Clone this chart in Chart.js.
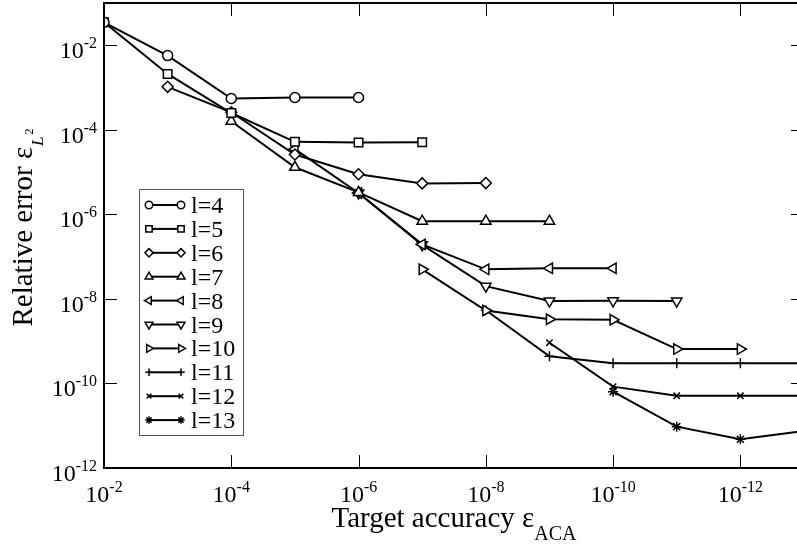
<!DOCTYPE html>
<html>
<head>
<meta charset="utf-8">
<title>ACA convergence</title>
<script src="https://cdn.jsdelivr.net/npm/chart.js@4.4.1/dist/chart.umd.min.js"></script>
<style>
  html, body { margin: 0; padding: 0; background: #fff; overflow: hidden; }
  /* plot box runs a little past the right edge of the window */
  #wrap { width: 816px; height: 546px; }
</style>
</head>
<body>
<div id="wrap"><canvas id="chart"></canvas></div>
<script>
const targetAccuracy = [1e-2, 1e-3, 1e-4, 1e-5, 1e-6, 1e-7, 1e-8, 1e-9, 1e-10, 1e-11, 1e-12, 1e-13];
const levels = ['l=4', 'l=5', 'l=6', 'l=7', 'l=8', 'l=9', 'l=10', 'l=11', 'l=12', 'l=13'];

// relative L2 error, one entry per target accuracy (null = level not run there)
const errL4  = [3.5e-2, 5.7e-3, 5.5e-4, 5.8e-4, 5.8e-4];
const errL5  = [3.5e-2, 2.1e-3, 2.5e-4, 5.2e-5, 5.0e-5, 5.1e-5];
const errL6  = [null, 1.04e-3, 2.6e-4, 2.6e-5, 8.9e-6, 5.4e-6, 5.5e-6];
const errL7  = [null, null, 1.6e-4, 1.3e-5, 3.3e-6, 6.9e-7, 6.9e-7, 6.9e-7];
const errL8  = [null, null, null, 3.5e-5, 3.2e-6, 1.95e-7, 5.0e-8, 5.3e-8, 5.3e-8];
const errL9  = [null, null, null, null, 3.2e-6, 1.9e-7, 2.0e-8, 8.9e-9, 9.0e-9, 8.9e-9];
const errL10 = [null, null, null, null, null, 5.0e-8, 5.3e-9, 3.3e-9, 3.2e-9, 6.5e-10, 6.5e-10];
const errL11 = [null, null, null, null, null, null, 5.4e-9, 4.4e-10, 3.0e-10, 3.0e-10, 3.0e-10, 3.0e-10];
const errL12 = [null, null, null, null, null, null, null, 9.2e-10, 8.4e-11, 5.1e-11, 5.1e-11, 5.1e-11];
const errL13 = [null, null, null, null, null, null, null, null, 6.4e-11, 9.5e-12, 4.8e-12, 7.5e-12];

// decades that carry a major tick and a label
const xTickExps = [-2, -4, -6, -8, -10, -12];
const yTickExps = [-2, -4, -6, -8, -10, -12];

const errors = [errL4, errL5, errL6, errL7, errL8, errL9, errL10, errL11, errL12, errL13];
const markerStyle = ['circle', 'rect', 'rectRot', 'triangle', 'triangle', 'triangle', 'triangle', 'cross', 'crossRot', 'star'];
const markerRotation = [0, 0, 0, 0, 270, 180, 90, 0, 0, 0];
const markerRadius = [5, 6, 5.5, 6, 6, 6, 6, 5, 4.5, 5];

const FONT = '"Liberation Serif", "Times New Roman", serif';

// "10" with a raised exponent; anchor is 'center' or 'right'
function powerLabel(ctx, exp, x, baseY, anchor) {
  ctx.font = `24px ${FONT}`;
  const wBase = ctx.measureText('10').width;
  ctx.font = `16px ${FONT}`;
  const wExp = ctx.measureText(String(exp)).width;
  const left = anchor === 'right' ? x - wBase - wExp : x - (wBase + wExp) / 2;
  ctx.textAlign = 'left';
  ctx.textBaseline = 'alphabetic';
  ctx.font = `24px ${FONT}`;
  ctx.fillText('10', left, baseY);
  ctx.font = `16px ${FONT}`;
  ctx.fillText(String(exp), left + wBase, baseY - 10);
}

const frame = {
  id: 'frame',
  afterDatasetsDraw(chart) {
    const { ctx, chartArea: a, scales: { x, y } } = chart;
    const tick = 13;
    ctx.save();
    ctx.fillStyle = '#000';
    ctx.strokeStyle = '#000';

    // box
    ctx.lineWidth = 2;
    ctx.strokeRect(a.left, a.top, a.right - a.left, a.bottom - a.top);

    // inward ticks on all four sides
    ctx.lineWidth = 1;
    ctx.beginPath();
    xTickExps.forEach(e => {
      const px = Math.round(x.getPixelForValue(Math.pow(10, e))) + 0.5;
      ctx.moveTo(px, a.bottom); ctx.lineTo(px, a.bottom - tick);
      ctx.moveTo(px, a.top); ctx.lineTo(px, a.top + tick);
    });
    yTickExps.forEach(e => {
      const py = Math.round(y.getPixelForValue(Math.pow(10, e))) + 0.5;
      ctx.moveTo(a.left, py); ctx.lineTo(a.left + tick, py);
      ctx.moveTo(a.right, py); ctx.lineTo(a.right - tick, py);
    });
    ctx.stroke();

    // tick labels
    xTickExps.forEach(e => powerLabel(ctx, e, x.getPixelForValue(Math.pow(10, e)), a.bottom + 34, 'center'));
    yTickExps.forEach(e => powerLabel(ctx, e, a.left - 7, y.getPixelForValue(Math.pow(10, e)) + 13, 'right'));

    // x title: Target accuracy ε_ACA
    ctx.textAlign = 'left';
    ctx.font = `29px ${FONT}`;
    const xMain = 'Target accuracy \u03b5';
    const wMain = ctx.measureText(xMain).width;
    ctx.font = `20px ${FONT}`;
    const wSub = ctx.measureText('ACA').width;
    const xl = (a.left + a.right) / 2 - (wMain + wSub) / 2;
    ctx.font = `29px ${FONT}`;
    ctx.fillText(xMain, xl, a.bottom + 59);
    ctx.font = `20px ${FONT}`;
    ctx.fillText('ACA', xl + wMain, a.bottom + 72);

    // y title: Relative error ε_{L^2}, reading upwards
    ctx.save();
    ctx.font = `29px ${FONT}`;
    const yMain = 'Relative error \u03b5';
    const wyMain = ctx.measureText(yMain).width;
    ctx.font = `italic 17px ${FONT}`;
    const wL = ctx.measureText('L').width;
    ctx.font = `12px ${FONT}`;
    const w2 = ctx.measureText('2').width;
    const total = wyMain + wL + w2 + 2;
    ctx.translate(32, 228 + total / 2);
    ctx.rotate(-Math.PI / 2);
    ctx.font = `29px ${FONT}`;
    ctx.fillText(yMain, 0, 0);
    ctx.font = `italic 17px ${FONT}`;
    ctx.fillText('L', wyMain + 1, 11);
    ctx.font = `12px ${FONT}`;
    ctx.fillText('2', wyMain + wL + 3, 1);
    ctx.restore();

    // legend
    const box = { x: 139, y: 189, w: 104, h: 246 };
    ctx.fillStyle = '#fff';
    ctx.fillRect(box.x, box.y, box.w, box.h);
    ctx.strokeStyle = '#555';
    ctx.lineWidth = 1;
    ctx.strokeRect(box.x + 0.5, box.y + 0.5, box.w, box.h);
    levels.forEach((name, i) => {
      const ry = 205 + i * 23.9;
      ctx.strokeStyle = '#000';
      ctx.lineWidth = 2;
      ctx.beginPath();
      ctx.moveTo(149, ry); ctx.lineTo(181, ry);
      ctx.stroke();
      ctx.fillStyle = '#fff';
      ctx.lineWidth = 1.5;
      const opts = { pointStyle: markerStyle[i], rotation: markerRotation[i], radius: markerRadius[i] * 0.75, borderWidth: 1.5 };
      Chart.helpers.drawPoint(ctx, opts, 149, ry);
      Chart.helpers.drawPoint(ctx, opts, 181, ry);
      ctx.fillStyle = '#000';
      ctx.font = `24px ${FONT}`;
      ctx.textAlign = 'left';
      ctx.fillText(name, 191, ry + 8);
    });
    ctx.restore();
  }
};

const hiddenAxis = {
  grid: { display: false, drawTicks: false },
  border: { display: false },
  ticks: { display: false }
};

new Chart(document.getElementById('chart'), {
  type: 'line',
  data: {
    datasets: levels.map((name, i) => ({
      label: name,
      data: errors[i]
        .map((v, j) => (v == null ? null : { x: targetAccuracy[j], y: v }))
        .filter(p => p !== null),
      borderColor: '#000',
      borderWidth: 2,
      tension: 0,
      pointStyle: markerStyle[i],
      pointRotation: markerRotation[i],
      pointRadius: markerRadius[i],
      pointBackgroundColor: '#fff',
      pointBorderColor: '#000',
      pointBorderWidth: 1.5
    }))
  },
  options: {
    responsive: true,
    maintainAspectRatio: false,
    animation: false,
    layout: { autoPadding: false, padding: { left: 104, right: 12, top: 3, bottom: 78 } },
    plugins: { legend: { display: false }, tooltip: { enabled: false } },
    scales: {
      x: { type: 'logarithmic', reverse: true, min: 1e-13, max: 1e-2, ...hiddenAxis },
      y: { type: 'logarithmic', min: 1e-12, max: 1e-1, ...hiddenAxis }
    }
  },
  plugins: [frame]
});
</script>
</body>
</html>
